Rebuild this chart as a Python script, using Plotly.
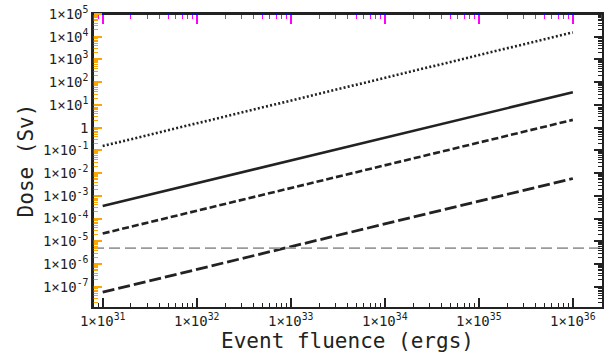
import plotly.graph_objects as go

# Data
fluence = [1e31, 1e36]
dose_dotted = [0.155, 1.55e4]
dose_solid = [3.6e-4, 36]
dose_dashed = [2.2e-5, 2.2]
dose_longdash = [5.8e-8, 5.8e-3]
threshold = 5e-6
x_range_log = [30.897, 36.31]
y_range_log = [-7.89, 5.0]

x_exps = [31, 32, 33, 34, 35, 36]
x_tickvals = [10.0 ** e for e in x_exps]
x_ticktext = ["1×10<sup>%d</sup>" % e for e in x_exps]
y_exps = [5, 4, 3, 2, 1, 0, -1, -2, -3, -4, -5, -6, -7]
y_tickvals = [10.0 ** e for e in y_exps]
y_ticktext = ["1" if e == 0 else "1×10<sup>%d</sup>" % e for e in y_exps]

x_minor = [d * 10.0 ** e for e in range(30, 37) for d in range(2, 10)]
y_minor = [d * 10.0 ** e for e in range(-8, 5) for d in range(2, 10)]

font = "DejaVu Sans Mono"
ink = "#222"

fig = go.Figure()
fig.add_trace(go.Scatter(x=[10 ** x_range_log[0], 10 ** x_range_log[1]], y=[threshold, threshold],
                         mode="lines", line=dict(color="#9a9a9a", width=1.6, dash="11px,5px"),
                         xaxis="x2", yaxis="y2"))
fig.add_trace(go.Scatter(x=fluence, y=dose_dotted, mode="lines",
                         line=dict(color=ink, width=2.6, dash="2px,2.2px"),
                         xaxis="x3", yaxis="y3"))
fig.add_trace(go.Scatter(x=fluence, y=dose_solid, mode="lines",
                         line=dict(color=ink, width=2.6),
                         xaxis="x4", yaxis="y"))
fig.add_trace(go.Scatter(x=fluence, y=dose_dashed, mode="lines",
                         line=dict(color=ink, width=2.6, dash="7px,3px")))
fig.add_trace(go.Scatter(x=fluence, y=dose_longdash, mode="lines",
                         line=dict(color=ink, width=2.8, dash="12px,4px")))

def base(c):
    return dict(tickwidth=2, tickcolor=c, showgrid=False, zeroline=False,
                showline=True, linecolor=ink, linewidth=1.5, automargin=False)

def minor(vals, c, side="inside"):
    return dict(ticks=side, ticklen=4, tickwidth=1, tickcolor=c, showgrid=False,
                tickmode="array", tickvals=vals)

fig.update_layout(
    template="none",
    xaxis=dict(type="log", range=x_range_log, tickmode="array", tickvals=x_tickvals,
               ticktext=x_ticktext, ticks="inside", ticklen=9, minor=minor(x_minor, ink),
               tickfont=dict(family=font, size=14, color=ink),
               title=dict(text="Event fluence (ergs)", font=dict(family=font, size=21, color=ink),
                          standoff=2),
               **base(ink)),
    yaxis=dict(type="log", range=y_range_log, tickmode="array", tickvals=y_tickvals,
               ticktext=y_ticktext, ticks="inside", ticklen=8, minor=minor(y_minor, "red"),
               tickfont=dict(family=font, size=14, color=ink),
               title=dict(text="Dose (Sv)", font=dict(family=font, size=21, color=ink),
                          standoff=4),
               **base("red")),
    xaxis2=dict(type="log", range=x_range_log, overlaying="x", side="top", anchor="y2",
                tickmode="array", tickvals=x_tickvals, showticklabels=False,
                ticks="inside", ticklen=9, minor=minor(x_minor, "blue"), **base("blue")),
    yaxis2=dict(type="log", range=y_range_log, overlaying="y", side="right", anchor="x2",
                tickmode="array", tickvals=y_tickvals, showticklabels=False,
                ticks="inside", ticklen=8, minor=minor(y_minor, ink), **base(ink)),
    xaxis3=dict(type="log", range=x_range_log, overlaying="x", side="bottom", anchor="free",
                position=0.999, tickmode="array", tickvals=x_tickvals, showticklabels=False,
                ticks="outside", ticklen=9, minor=minor(x_minor, "green", "outside"), **base("green")),
    yaxis3=dict(type="log", range=y_range_log, overlaying="y", side="right", anchor="free",
                position=0, tickmode="array", tickvals=y_tickvals, showticklabels=False,
                ticks="outside", ticklen=8, minor=minor(y_minor, "orange", "outside"), **base("orange")),
    xaxis4=dict(type="log", range=x_range_log, overlaying="x", side="top", anchor="free",
                position=1, tickmode="array", tickvals=x_tickvals, showticklabels=False,
                ticks="inside", ticklen=9, minor=minor(x_minor, "magenta"), **base("magenta")),
    width=612, height=355, margin=dict(l=93, r=10, t=14, b=48),
    plot_bgcolor="white", paper_bgcolor="white", showlegend=False,
)

fig.write_html("out.html")
